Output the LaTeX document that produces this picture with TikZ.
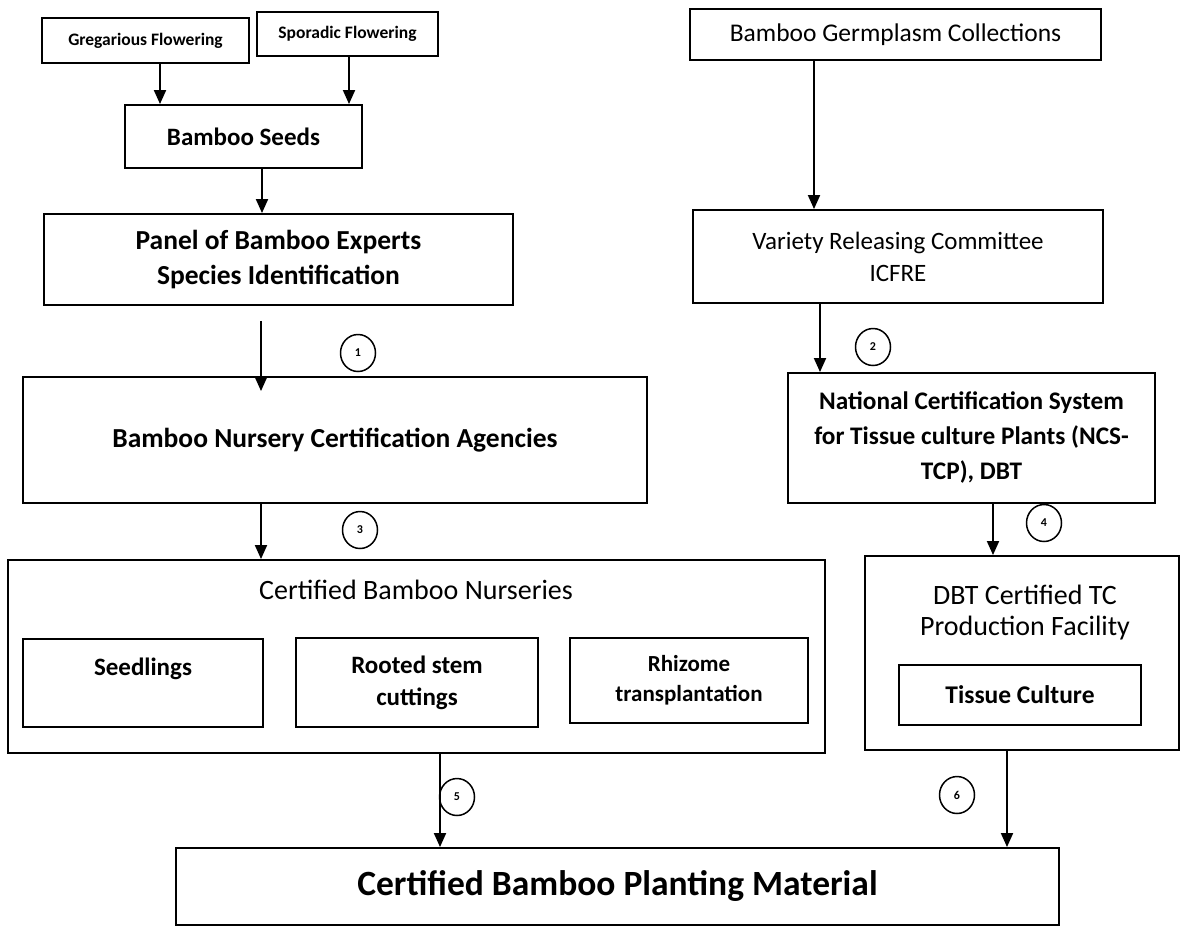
\documentclass[tikz,border=0pt]{standalone}
\usepackage{fontspec}
\setmainfont{Carlito}
\usepackage{tikz}
\usetikzlibrary{arrows.meta, positioning, shapes.geometric}

\begin{document}
\begin{tikzpicture}[x=1pt, y=-1pt, line width=1.9pt,
        >={Triangle[length=14pt,width=12pt]},
        box/.style={draw, line width=1.9pt, align=center, inner sep=0pt},
        num/.style={draw, ellipse, line width=1.5pt, minimum width=35pt, minimum height=37pt, inner sep=0pt, font=\fontsize{12}{12}\selectfont\bfseries}]
        \useasboundingbox (0,0) rectangle (1185,930);
        % left column
        \node[box, minimum width=207pt, minimum height=45pt, font=\fontsize{17.5}{21}\selectfont\bfseries] (Gregarious) at (145.5,40.5) {Gregarious Flowering};
        \node[box, minimum width=181pt, minimum height=44pt, font=\fontsize{17.5}{21}\selectfont\bfseries] (Sporadic) at (347.5,34) {Sporadic Flowering};
        \node[box, minimum width=237pt, minimum height=63pt, font=\fontsize{25}{30}\selectfont\bfseries] (Seeds) at (243.5,136.5) {Bamboo Seeds};
        \node[box, minimum width=469pt, minimum height=91pt, font=\fontsize{27.5}{35}\selectfont\bfseries] (Panel) at (278.5,259.5) {Panel of Bamboo Experts\\Species Identification};
        \node[box, minimum width=624pt, minimum height=126pt, font=\fontsize{27.5}{33}\selectfont\bfseries] (Agencies) at (335,440) {Bamboo Nursery Certification Agencies};
        \node[box, minimum width=817pt, minimum height=193pt] (Nurseries) at (416.5,656.5) {};
        \node[font=\fontsize{28}{33}\selectfont] (NurseriesTitle) at (416,590) {Certified Bamboo Nurseries};
        \node[box, minimum width=240pt, minimum height=88pt, font=\fontsize{25}{32}\selectfont\bfseries] (Seedlings) at (143,683) {Seedlings\\~};
        \node[box, minimum width=242pt, minimum height=89pt, font=\fontsize{25}{32}\selectfont\bfseries] (Rooted) at (417,682.5) {Rooted stem\\cuttings};
        \node[box, minimum width=238pt, minimum height=85pt, font=\fontsize{23}{30}\selectfont\bfseries] (Rhizome) at (689,680.5) {Rhizome\\transplantation};
        % right column
        \node[box, minimum width=411pt, minimum height=51pt, font=\fontsize{25.5}{30}\selectfont] (Germplasm) at (895.5,34.5) {Bamboo Germplasm Collections};
        \node[box, minimum width=410pt, minimum height=93pt, font=\fontsize{25}{32}\selectfont] (Variety) at (898,256.5) {Variety Releasing Committee\\ICFRE};
        \node[box, minimum width=367pt, minimum height=130pt, font=\fontsize{25.3}{35}\selectfont\bfseries] (NCS) at (971.5,438) {National Certification System\\for Tissue culture Plants (NCS-\\TCP), DBT};
        \node[box, minimum width=314pt, minimum height=194pt] (DBT) at (1022,653) {};
        \node[align=center, font=\fontsize{28}{31}\selectfont] (DBTTitle) at (1025,612.5) {DBT Certified TC\\Production Facility};
        \node[box, minimum width=242pt, minimum height=60pt, font=\fontsize{25.5}{30}\selectfont\bfseries] (Tissue) at (1020,695) {Tissue Culture};
        % bottom
        \node[box, minimum width=883pt, minimum height=77pt, font=\fontsize{35.5}{40}\selectfont\bfseries] (Planting) at (617.5,886.5) {Certified Bamboo Planting Material};
        % numbered circles
        \node[num] (C1) at (358,353) {1};
        \node[num] (C2) at (873,347) {2};
        \node[num] (C3) at (360,530) {3};
        \node[num] (C4) at (1044,523) {4};
        \node[num] (C5) at (457,797) {5};
        \node[num] (C6) at (957,795) {6};
        % arrows
        \draw[->] ([xshift=14.5pt]Gregarious.south) -- ([xshift=14.5pt]Gregarious.south |- Seeds.north);
        \draw[->] ([xshift=1.5pt]Sporadic.south) -- ([xshift=1.5pt]Sporadic.south |- Seeds.north);
        \draw[->] ([xshift=18.5pt]Seeds.south) -- ([xshift=18.5pt]Seeds.south |- Panel.north);
        \draw[->] ([xshift=-17.5pt,yshift=-15pt]Panel.south) -- ([xshift=-17.5pt,yshift=-15pt]Panel.south |- Agencies.north);
        \draw[->] ([xshift=-74pt]Agencies.south) -- ([xshift=-74pt]Agencies.south |- Nurseries.north);
        \draw[->] ([xshift=23.5pt]Nurseries.south) -- ([xshift=23.5pt]Nurseries.south |- Planting.north);
        \draw[->] ([xshift=-81.5pt]Germplasm.south) -- ([xshift=-81.5pt]Germplasm.south |- Variety.north);
        \draw[->] ([xshift=-78pt]Variety.south) -- ([xshift=-78pt]Variety.south |- NCS.north);
        \draw[->] ([xshift=21.5pt]NCS.south) -- ([xshift=21.5pt]NCS.south |- DBT.north);
        \draw[->] ([xshift=-15pt]DBT.south) -- ([xshift=-15pt]DBT.south |- Planting.north);
\end{tikzpicture}
\end{document}
